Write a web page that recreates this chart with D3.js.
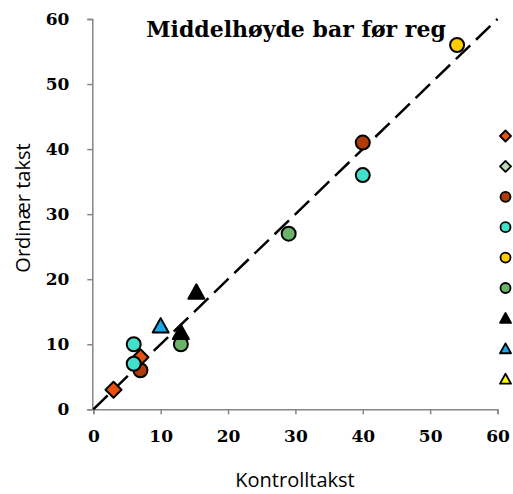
<!DOCTYPE html>
<html>
<head>
<meta charset="utf-8">
<script src="https://cdn.jsdelivr.net/npm/d3@7"></script>
<style>
  html, body { margin: 0; padding: 0; background: #fff; }
  svg { display: block; }
</style>
</head>
<body>
<div id="chart"></div>
<script>
// Axis ticks
const xTicks = [0, 10, 20, 30, 40, 50, 60];
const yTicks = [0, 10, 20, 30, 40, 50, 60];

// One entry per series: marker shape and fill colour
const seriesShapes = ["diamond", "diamond", "circle", "circle", "circle", "circle", "triangle", "triangle", "triangle"];
const seriesColors = ["#E9520E", "#B9DDB0", "#B03C0C", "#40E0CC", "#FFCC00", "#6AB46A", "#000000", "#1AA8E8", "#FFFF00"];

// Control value (x) and ordinary value (y) for each series
const xValues = [
  [3, 7],
  [],
  [7, 40],
  [6, 6, 40],
  [54],
  [29, 13],
  [13, 15.3],
  [10],
  []
];
const yValues = [
  [3, 8],
  [],
  [6, 41],
  [10, 7, 36],
  [56],
  [27, 10],
  [11.8, 18],
  [12.8],
  []
];

// Stacking order of the series in the plot (later ones sit on top)
const drawOrder = [2, 0, 1, 3, 4, 5, 6, 7, 8];

const W = 513, H = 494;
const svg = d3.select("#chart").append("svg").attr("width", W).attr("height", H);

const x = d3.scaleLinear().domain([0, 60]).range([93.3, 497.5]);
const y = d3.scaleLinear().domain([0, 60]).range([409.3, 19]);

const axisColor = "#868686";
const tickFont = "'DejaVu Serif', serif";

// Axes
const xAxis = svg.append("g").attr("transform", `translate(0,${y(0)})`)
  .call(d3.axisBottom(x).tickValues(xTicks).tickSize(5).tickPadding(16).tickFormat(d3.format("d")));
const yAxis = svg.append("g").attr("transform", `translate(${x(0) - 1},0)`)
  .call(d3.axisLeft(y).tickValues(yTicks).tickSize(5).tickPadding(18).tickFormat(d3.format("d")));
[xAxis, yAxis].forEach(g => {
  g.select(".domain").attr("stroke", axisColor).attr("stroke-width", 1.5);
  g.selectAll(".tick line").attr("stroke", axisColor).attr("stroke-width", 1.5);
  g.selectAll(".tick text").attr("fill", "#000").attr("font-family", tickFont)
    .attr("font-weight", "bold").attr("font-size", 17);
});

// 1:1 reference line
svg.append("line")
  .attr("x1", x(0)).attr("y1", y(0)).attr("x2", x(60)).attr("y2", y(60))
  .attr("stroke", "#000").attr("stroke-width", 2.5).attr("stroke-dasharray", "20,8");

// Marker paths
function markerPath(shape, s) {
  if (shape === "diamond") {
    return `M0,${-s}L${s},0L0,${s}L${-s},0Z`;
  } else if (shape === "triangle") {
    const h = s * 1.8;
    return `M0,${-h * 0.55}L${s},${h * 0.45}L${-s},${h * 0.45}Z`;
  }
  return d3.arc()({ innerRadius: 0, outerRadius: s, startAngle: 0, endAngle: 2 * Math.PI });
}
const plotSize = { diamond: 8, circle: 7, triangle: 8 };
const legendSize = { diamond: 5.5, circle: 5, triangle: 5.5 };

const pts = svg.append("g");
drawOrder.forEach(i => {
  const shape = seriesShapes[i];
  const data = xValues[i].map((v, j) => ({ x: v, y: yValues[i][j] }));
  pts.selectAll(null).data(data).enter().append("path")
    .attr("transform", d => `translate(${x(d.x)},${y(d.y)})`)
    .attr("d", markerPath(shape, plotSize[shape]))
    .attr("fill", seriesColors[i]).attr("stroke", "#000").attr("stroke-width", 2)
    .attr("stroke-linejoin", "round");
});

// Legend markers
const legend = svg.append("g");
seriesShapes.forEach((shape, i) => {
  legend.append("path")
    .attr("transform", `translate(505.5,${136 + i * 30.4})`)
    .attr("d", markerPath(shape, legendSize[shape]))
    .attr("fill", seriesColors[i]).attr("stroke", "#000").attr("stroke-width", 1.8)
    .attr("stroke-linejoin", "round");
});

// Title and axis titles
svg.append("text").attr("x", 296).attr("y", 37).attr("text-anchor", "middle")
  .attr("font-family", tickFont).attr("font-weight", "bold").attr("font-size", 22)
  .text("Middelhøyde bar før reg");
svg.append("text").attr("x", 295).attr("y", 487).attr("text-anchor", "middle")
  .attr("font-family", "'Open Sans', sans-serif").attr("font-size", 20)
  .text("Kontrolltakst");
svg.append("text").attr("transform", "translate(30,208) rotate(-90)").attr("text-anchor", "middle")
  .attr("font-family", "'Open Sans', sans-serif").attr("font-size", 20)
  .text("Ordinær takst");
</script>
</body>
</html>
